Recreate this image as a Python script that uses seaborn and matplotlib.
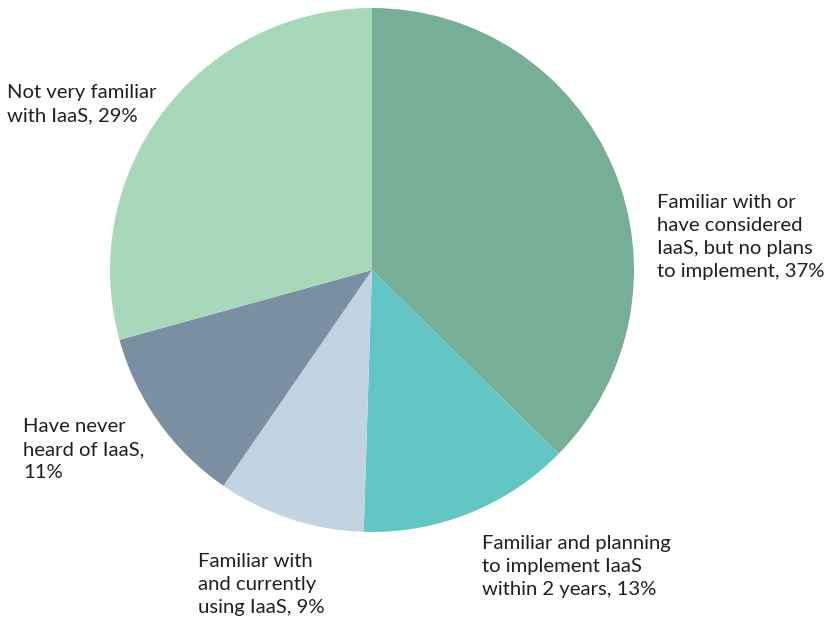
import matplotlib
matplotlib.use("Agg")
import matplotlib.pyplot as plt
import seaborn as sns

# Survey shares, clockwise from 12 o'clock
categories = [
    "Familiar with or\nhave considered\nIaaS, but no plans\nto implement",
    "Familiar and planning\nto implement IaaS\nwithin 2 years",
    "Familiar with\nand currently\nusing IaaS",
    "Have never\nheard of IaaS,",
    "Not very familiar\nwith IaaS",
]
shares = [37, 13, 9, 11, 29]
slice_colors = ["#76AE98", "#62C6C4", "#C2D4E2", "#7A8FA1", "#A8D8BA"]

sns.set_theme(style="white")
plt.rcParams["font.family"] = ["Lato", "DejaVu Sans"]

W, H = 829, 619
fig = plt.figure(figsize=(W / 100, H / 100), dpi=100)
ax = fig.add_axes([0, 0, 1, 1])

palette = sns.color_palette(slice_colors)
cx, cy, r = 372, -270, 262
ax.pie(shares, colors=palette, startangle=90, counterclock=False,
       center=(cx, cy), radius=r, wedgeprops=dict(linewidth=0))
ax.set_xlim(0, W)
ax.set_ylim(-H, 0)
ax.set_aspect("auto")
ax.axis("off")

# label text with its share appended, anchored at last-line baseline
def label(i):
    name = categories[i]
    sep = "\n" if name.endswith(",") else ", "
    return f"{name}{sep}{shares[i]}%"

anchors = [(657, 277), (482, 595), (198, 613), (23, 478), (7, 121)]
for i, (x, y) in enumerate(anchors):
    ax.text(x, -y, label(i), ha="left", va="baseline", fontsize=14.6,
            color="#231F20", linespacing=1.42)

fig.savefig("out.png", dpi=100)
